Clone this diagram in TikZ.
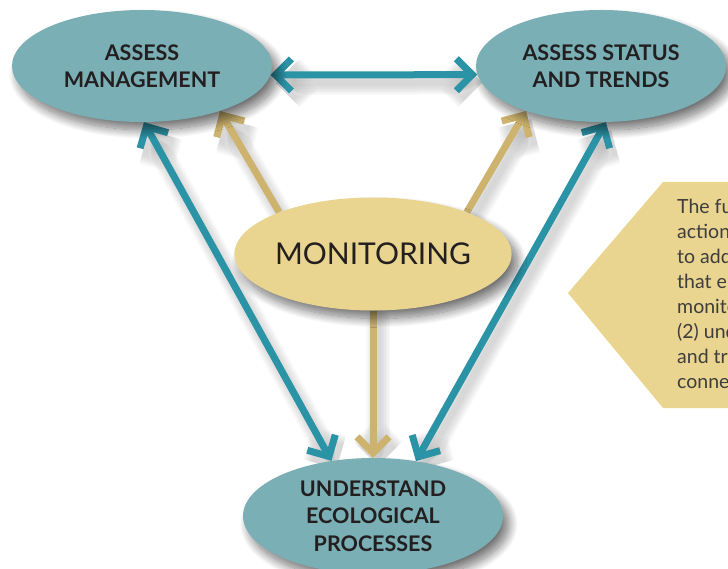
\documentclass[tikz,border=0pt]{standalone}
\usepackage{fontspec}
\setmainfont{Lato}
\usetikzlibrary{arrows.meta,shapes.geometric,shadows.blur}

\definecolor{tealfill}{HTML}{7AAFB5}
\definecolor{tealline}{HTML}{2B93A6}
\definecolor{goldline}{HTML}{CDB36E}
\definecolor{goldfill}{HTML}{E9D590}
\definecolor{ink}{HTML}{231F20}
\definecolor{calltext}{HTML}{3D3D3D}

\pgfdeclarelayer{bg}
\pgfsetlayers{bg,main}

\tikzset{
  softshadow/.style={blur shadow={shadow xshift=6pt, shadow yshift=-8pt,
      shadow blur radius=9pt, shadow blur steps=16, shadow opacity=55}},
  bubble/.style={ellipse, draw=none, fill=tealfill, inner sep=0pt,
      align=center, text=ink, softshadow,
      font=\bfseries\fontsize{21.5}{27.5}\selectfont},
  hub/.style={ellipse, draw=none, fill=goldfill, inner sep=0pt,
      minimum width=260pt, minimum height=113pt, text=ink, softshadow,
      font=\fontsize{30}{32}\selectfont},
  % stacked translucent strokes give each connector a soft shadow
  shadowstroke/.style={preaction={draw=black, opacity=0.025, line width=#1,
        line cap=round, transform canvas={shift={(5pt,-8pt)}}}},
  lineshadow/.style={shadowstroke=24pt, shadowstroke=21pt, shadowstroke=18pt,
      shadowstroke=15pt, shadowstroke=12pt, shadowstroke=9pt, shadowstroke=6pt},
  barb/.tip={Straight Barb[length=16pt, width=32pt, line cap=butt, line join=miter]},
  teallink/.style={draw=tealline, line width=7pt, lineshadow},
  goldlink/.style={draw=goldline, line width=7pt, lineshadow},
}

\begin{document}
\begin{tikzpicture}[x=1pt, y=-1pt]
  \useasboundingbox (0,0) rectangle (728,569);
  \clip (0,0) rectangle (728,569);

  % the four stages of the cycle
  \node[bubble, minimum width=260pt, minimum height=112pt] (am) at (142,66)
    {ASSESS\\MANAGEMENT};
  \node[bubble, minimum width=250pt, minimum height=112pt] (as) at (601,66)
    {ASSESS STATUS\\AND TRENDS};
  \node[hub] (mo) at (373,254) {MONITORING};
  \node[bubble, minimum width=260pt, minimum height=116pt] (un) at (373,516)
    {UNDERSTAND\\ECOLOGICAL\\PROCESSES};

  % callout panel on the right
  \fill[goldfill] (568,293) coordinate (tip) -- (663,182) -- (740,182)
    -- (740,408) -- (663,408) -- cycle;
  \node[anchor=north west, inner sep=0pt, align=left, text=calltext,
        font=\fontsize{19.5}{25}\selectfont] (note) at (677,199)
    {The function of\\actions taken\\to address issues\\that emerge from\\monitoring and\\(2) understand\\and trends are\\connected};

  % connectors between the stages
  \begin{pgfonlayer}{bg}
    \draw[teallink, barb-barb] (am.-4) -- (as.184);
    \draw[teallink, barb-barb] (am.-88) -- (un.127);
    \draw[teallink, barb-barb] (as.-85) -- (un.52);
    \draw[goldlink, -barb] (mo.156) -- (am.-30);
    \draw[goldlink, -barb] (mo.24) -- (as.211);
    \draw[goldlink, -barb] (mo.south) -- (un.north);
  \end{pgfonlayer}
\end{tikzpicture}
\end{document}
